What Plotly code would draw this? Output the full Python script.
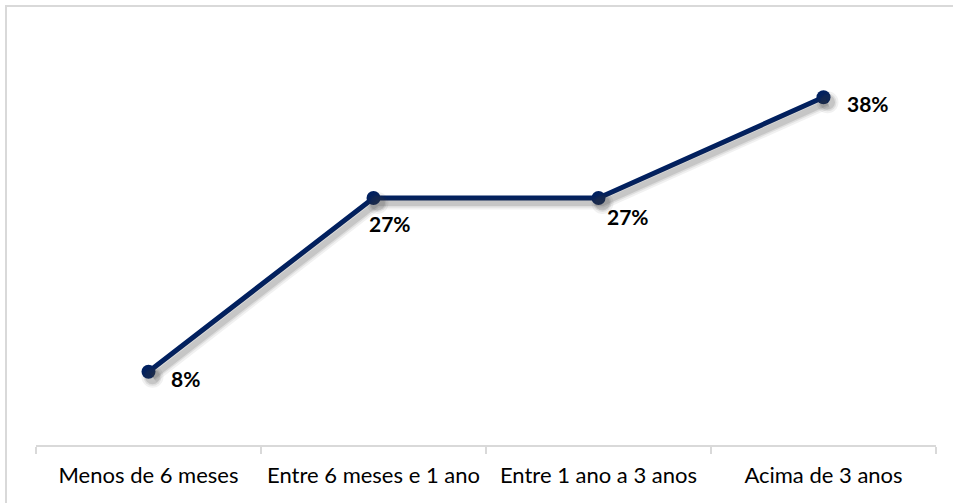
import plotly.graph_objects as go

# Tempo de permanência — share of respondents per bracket
categorias = ["Menos de 6 meses", "Entre 6 meses e 1 ano", "Entre 1 ano a 3 anos", "Acima de 3 anos"]
percentuais = [8, 27, 27, 38]
rotulos = ["8%", "27%", "27%", "38%"]

# label offsets (pixels) relative to each point
rotulo_dx = [20, -7, 6, 21]
rotulo_dy = [-7, -26, -19, -6]

AZUL = "#002060"
CINZA = "#d9d9d9"

W, H = 953, 503
ML, MR, MB, MT = 36, 17, 58, 79
plot_w = W - ML - MR
plot_h = H - MT - MB
y_max = 40

# pixel offset of the soft drop shadow
sh_dx, sh_dy = 4, 5
cat_px = plot_w / len(categorias)
val_px = plot_h / y_max

fig = go.Figure()

# shadow layers drawn on shifted twin axes
for width, alpha in [(13, 0.07), (9, 0.10), (6, 0.14)]:
    fig.add_trace(go.Scatter(
        x=categorias, y=percentuais, mode="lines+markers",
        line=dict(color=f"rgba(60,60,60,{alpha})", width=width),
        marker=dict(size=9 + width, color=f"rgba(60,60,60,{alpha})"),
        xaxis="x2", yaxis="y2", hoverinfo="skip", showlegend=False,
    ))

fig.add_trace(go.Scatter(
    x=categorias, y=percentuais, mode="lines+markers",
    line=dict(color=AZUL, width=5),
    marker=dict(size=14, color=AZUL),
    showlegend=False,
))

for c, v, t, dx, dy in zip(categorias, percentuais, rotulos, rotulo_dx, rotulo_dy):
    fig.add_annotation(
        x=c, y=v, text=f"<b>{t}</b>", showarrow=False,
        xanchor="left", yanchor="middle", xshift=dx, yshift=dy,
        font=dict(family="Lato", size=21, color="#000000"),
    )

# chart frame
fig.add_shape(
    type="rect", xref="paper", yref="paper",
    x0=(6 - ML) / plot_w, x1=(W + 10 - ML) / plot_w,
    y0=-(H + 10 - (H - MB)) / plot_h, y1=((H - MB) - 6) / plot_h,
    line=dict(color=CINZA, width=2), fillcolor="rgba(0,0,0,0)", layer="below",
)

n = len(categorias)
fig.update_layout(
    width=W, height=H,
    margin=dict(l=ML, r=MR, t=MT, b=MB),
    paper_bgcolor="white", plot_bgcolor="white",
    font=dict(family="Lato", size=22, color="#000000"),
    xaxis=dict(
        type="category", categoryorder="array", categoryarray=categorias,
        range=[-0.5, n - 0.5], showgrid=False, zeroline=False,
        showline=True, linecolor=CINZA, linewidth=2,
        ticks="outside", tickson="boundaries", ticklen=7, tickcolor=CINZA, tickwidth=2,
        ticklabelstandoff=10,
        tickfont=dict(family="Lato", size=22, color="#000000"),
    ),
    yaxis=dict(range=[0, y_max], visible=False, fixedrange=True),
    xaxis2=dict(
        type="category", categoryorder="array", categoryarray=categorias,
        range=[-0.5 - sh_dx / cat_px, n - 0.5 - sh_dx / cat_px],
        overlaying="x", visible=False,
    ),
    yaxis2=dict(range=[sh_dy / val_px, y_max + sh_dy / val_px], overlaying="y", visible=False),
)

fig.write_html("out.html")
